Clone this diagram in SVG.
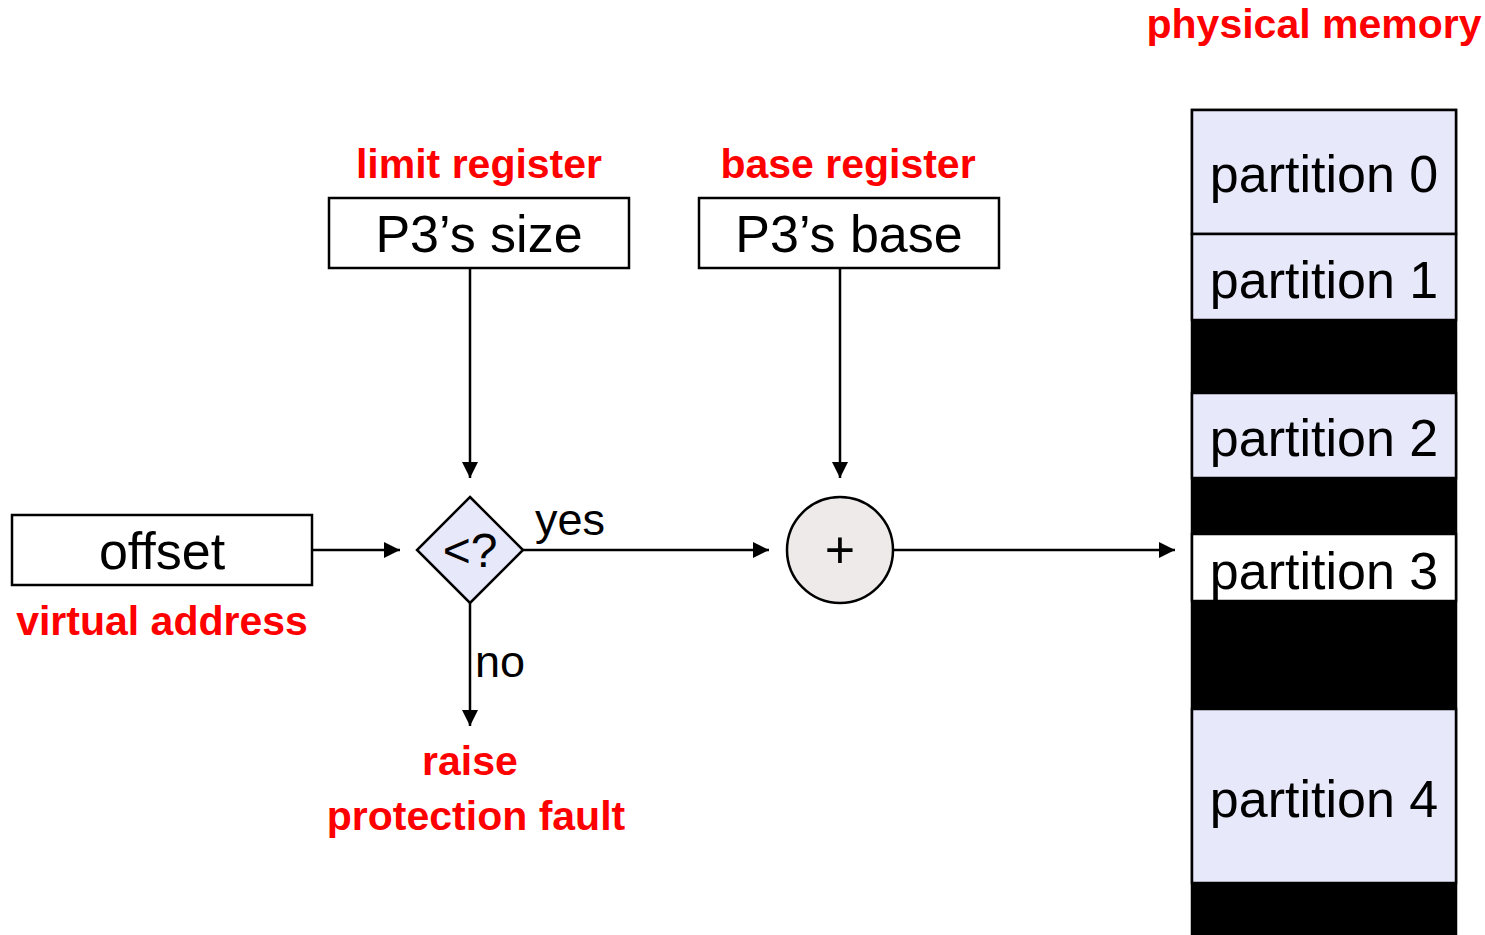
<svg xmlns="http://www.w3.org/2000/svg" width="1485" height="935" viewBox="0 0 1485 935">
<defs>
<style>
.box{fill:#fff;stroke:#000;stroke-width:2.5}
.t{font-family:"Liberation Sans",Arial,sans-serif;font-size:52px;fill:#000;text-anchor:middle}
.m{font-family:"Liberation Sans",Arial,sans-serif;font-size:45px;fill:#000}
.r{font-family:"Liberation Sans",Arial,sans-serif;font-size:41px;font-weight:bold;fill:#ff0000;text-anchor:middle}
.part{fill:#e8e8fb;stroke:#000;stroke-width:2.5}
.conn{stroke:#000;stroke-width:2.5;fill:none}
</style>
<marker id="ah" viewBox="0 0 16 16" refX="16" refY="8" markerWidth="16" markerHeight="16" markerUnits="userSpaceOnUse" orient="auto">
<path d="M0,0 L16,8 L0,16 Z" fill="#000"/>
</marker>
</defs>
<rect width="1485" height="935" fill="#fff"/>

<g id="memory">
<rect x="1192" y="110" width="264" height="840" fill="#000" stroke="#000" stroke-width="2.5"/>
<rect class="part" x="1192" y="110" width="264" height="124"/>
<rect class="part" x="1192" y="234" width="264" height="86"/>
<rect class="part" x="1192" y="393" width="264" height="85"/>
<rect class="part" x="1192" y="534" width="264" height="67" style="fill:#fff"/>
<rect class="part" x="1192" y="709" width="264" height="174"/>
<text class="t" x="1324" y="192">partition 0</text>
<text class="t" x="1324" y="298">partition 1</text>
<text class="t" x="1324" y="456">partition 2</text>
<text class="t" x="1324" y="589">partition 3</text>
<text class="t" x="1324" y="817">partition 4</text>
<text class="r" x="1314" y="38">physical memory</text>
</g>

<g id="limit">
<rect class="box" x="329" y="198" width="300" height="70"/>
<text class="t" x="479" y="252">P3’s size</text>
<text class="r" x="479" y="178">limit register</text>
</g>

<g id="base">
<rect class="box" x="699" y="198" width="300" height="70"/>
<text class="t" x="849" y="252">P3’s base</text>
<text class="r" x="848" y="178">base register</text>
</g>

<g id="offset">
<rect class="box" x="12" y="515" width="300" height="70"/>
<text class="t" x="162" y="569">offset</text>
<text class="r" x="162" y="635">virtual address</text>
</g>

<g id="compare">
<path d="M470,497 L523,550 L470,603 L417,550 Z" fill="#e8e8fb" stroke="#000" stroke-width="2.5"/>
<text class="m" x="470" y="567" text-anchor="middle" style="font-size:48px">&lt;?</text>
</g>

<g id="adder">
<circle cx="840" cy="550" r="53" fill="#eeeaea" stroke="#000" stroke-width="2.5"/>
<text class="m" x="840" y="568" text-anchor="middle" style="font-size:52px">+</text>
</g>

<g id="fault">
<text class="r" x="470" y="775">raise</text>
<text class="r" x="476" y="830">protection fault</text>
</g>

<g id="connectors">
<line class="conn" x1="470" y1="268" x2="470" y2="478" marker-end="url(#ah)"/>
<line class="conn" x1="840" y1="268" x2="840" y2="478" marker-end="url(#ah)"/>
<line class="conn" x1="312" y1="550" x2="400" y2="550" marker-end="url(#ah)"/>
<line class="conn" x1="523" y1="550" x2="769" y2="550" marker-end="url(#ah)"/>
<line class="conn" x1="893" y1="550" x2="1175" y2="550" marker-end="url(#ah)"/>
<line class="conn" x1="470" y1="603" x2="470" y2="726" marker-end="url(#ah)"/>
<text class="m" x="535" y="535">yes</text>
<text class="m" x="475" y="677">no</text>
</g>
</svg>
